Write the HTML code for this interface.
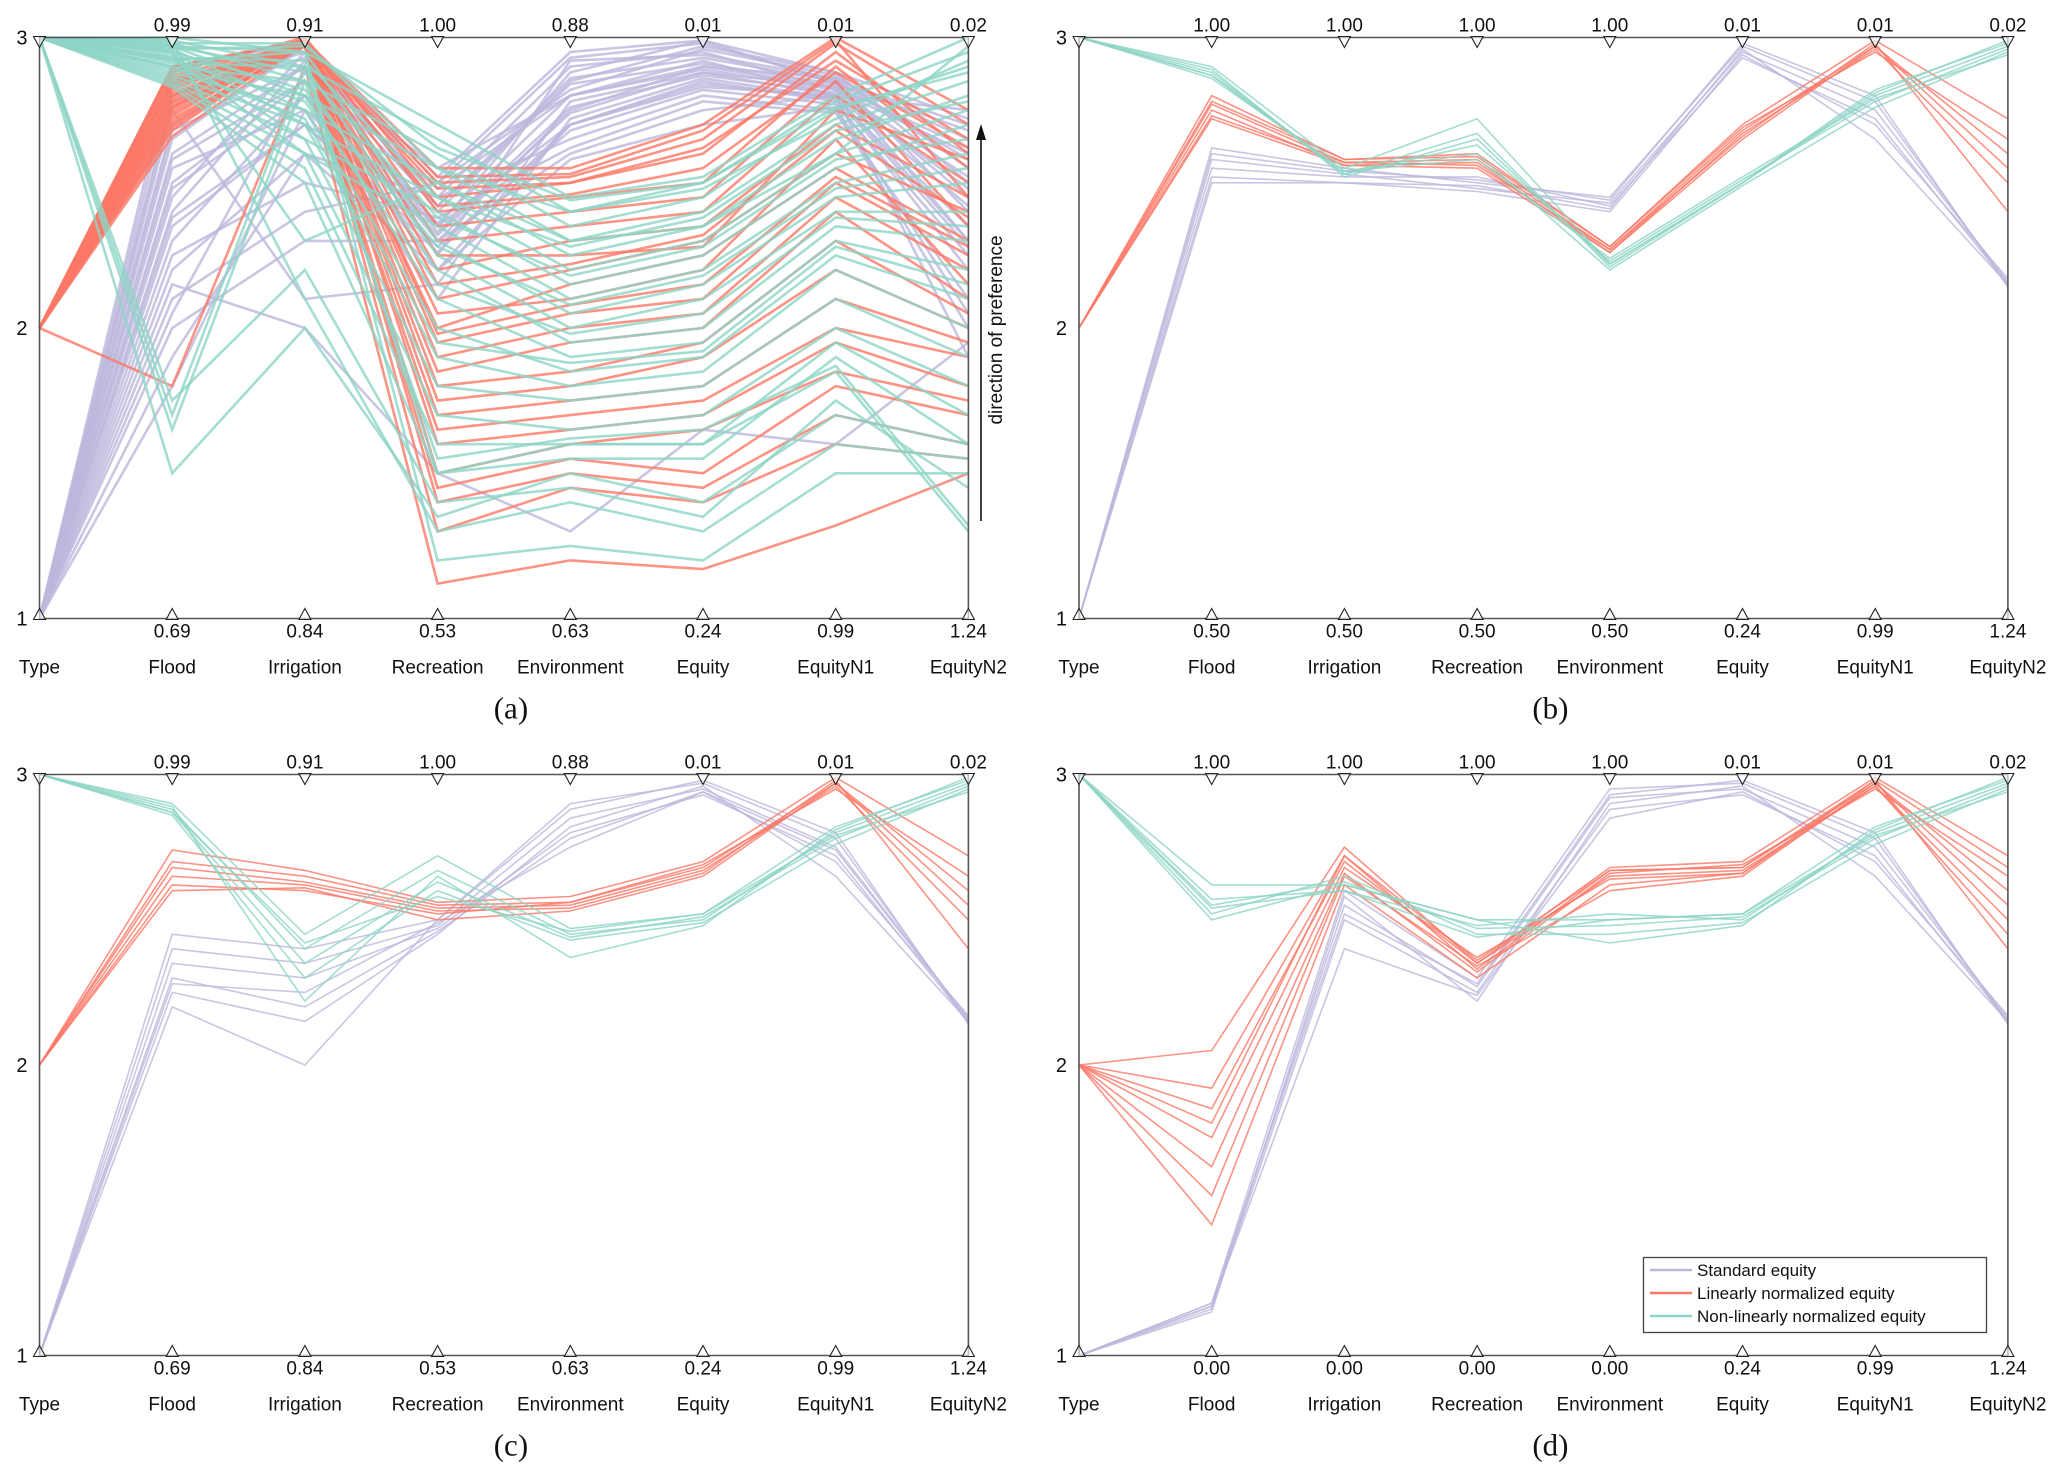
<!DOCTYPE html>
<html><head><meta charset="utf-8"><style>
html,body{margin:0;padding:0;background:#fff;}
svg{display:block;font-family:"Liberation Sans",sans-serif;}
</style></head><body>
<svg id="chart" width="2067" height="1484" viewBox="0 0 2067 1484" xmlns="http://www.w3.org/2000/svg"></svg>
<script>
const axisNames = ["Type","Flood","Irrigation","Recreation","Environment","Equity","EquityN1","EquityN2"];
const groupNames = ["Standard equity","Linearly normalized equity","Non-linearly normalized equity"];
const groupColors = ["#bcb8dc","#fb7866","#8dd5c6"];
const topLabelsA = ["","0.99","0.91","1.00","0.88","0.01","0.01","0.02"];
const botLabelsA = ["","0.69","0.84","0.53","0.63","0.24","0.99","1.24"];
const topLabelsB = ["","1.00","1.00","1.00","1.00","0.01","0.01","0.02"];
const botLabelsB = ["","0.50","0.50","0.50","0.50","0.24","0.99","1.24"];
const botLabelsD = ["","0.00","0.00","0.00","0.00","0.24","0.99","1.24"];
const yTicks = [1,2,3];

const aStd = [
[1,2.85,2.97,2.5,2.93,2.98,2.85,2.7],[1,2.8,2.95,2.45,2.9,2.95,2.82,2.6],[1,2.7,2.98,2.4,2.85,2.97,2.88,2.5],
[1,2.6,2.9,2.55,2.8,2.92,2.8,2.75],[1,2.5,2.85,2.3,2.75,2.9,2.86,2.4],[1,2.4,2.92,2.35,2.88,2.99,2.84,2.3],
[1,2.3,2.8,2.2,2.7,2.85,2.78,2.2],[1,2.2,2.6,2.45,2.65,2.8,2.75,2.0],[1,2.1,2.4,2.5,2.82,2.96,2.87,2.55],
[1,2.0,2.3,2.3,2.6,2.75,2.8,1.9],[1,2.75,2.1,2.15,2.78,2.88,2.83,2.45],[1,2.65,2.97,2.25,2.92,2.94,2.86,2.65],
[1,2.55,2.75,2.1,2.72,2.86,2.79,2.35],[1,2.45,2.95,2.42,2.86,2.93,2.85,2.58],[1,2.35,2.7,2.28,2.68,2.82,2.77,2.25],
[1,2.9,2.98,2.52,2.95,2.99,2.88,2.72],[1,2.25,2.5,2.38,2.62,2.78,2.74,2.1],[1,2.15,2.0,1.5,1.3,1.65,1.6,1.95],
[1,2.05,2.88,2.48,2.8,2.9,2.83,2.62],[1,2.78,2.93,2.33,2.76,2.87,2.81,2.48],[1,1.9,2.6,2.2,2.58,2.7,2.76,2.05],
[1,1.8,2.75,2.35,2.7,2.83,2.8,2.3],[1,2.68,2.9,2.42,2.84,2.91,2.84,2.68],[1,2.58,2.85,2.36,2.8,2.89,2.82,2.52],
[1,2.48,2.8,2.32,2.74,2.88,2.8,2.42],[1,2.38,2.7,2.26,2.7,2.84,2.79,2.28]];
const aLin = [
[2,2.9,2.99,2.55,2.55,2.7,3.0,2.75],[2,2.85,2.98,2.5,2.52,2.65,2.98,2.7],[2,2.88,3.0,2.45,2.5,2.6,2.95,2.6],
[2,2.82,2.99,2.4,2.45,2.5,2.9,2.55],[2,2.8,2.97,2.3,2.35,2.4,2.8,2.5],[2,2.78,2.99,2.2,2.3,2.35,2.7,2.45],
[2,2.75,2.98,2.1,2.2,2.3,2.6,2.4],[2,2.72,2.97,2.0,2.15,2.25,2.55,2.3],[2,2.7,2.98,1.95,2.05,2.1,2.5,2.25],
[2,2.68,2.99,1.9,2.0,2.05,2.45,2.2],[2,2.86,2.97,1.85,1.95,2.0,2.4,2.1],[2,2.84,2.98,1.8,1.85,1.95,2.3,2.05],
[2,2.76,2.99,1.75,1.8,1.9,2.2,2.0],[2,2.74,2.98,1.7,1.75,1.8,2.1,1.95],[2,2.81,2.97,1.65,1.7,1.75,2.0,1.9],
[2,2.79,2.99,1.6,1.65,1.7,1.95,1.8],[2,2.77,2.98,1.5,1.6,1.65,1.85,1.75],[2,2.83,2.97,1.45,1.55,1.5,1.8,1.7],
[2,2.73,2.99,1.4,1.5,1.45,1.7,1.6],[2,2.71,2.98,1.3,1.45,1.4,1.6,1.55],[2,1.8,2.9,1.12,1.2,1.17,1.32,1.5],
[2,2.87,2.98,2.35,2.4,2.45,2.85,2.35],[2,2.69,2.99,2.05,2.1,2.2,2.65,2.15],[2,2.89,2.97,2.48,2.5,2.62,2.92,2.65],
[2,2.66,2.98,2.25,2.25,2.28,2.75,2.58],[2,2.9,2.99,2.52,2.53,2.68,2.99,2.45],[2,2.84,2.98,2.42,2.46,2.55,2.88,2.62],
[2,2.76,2.98,2.15,2.22,2.32,2.68,2.38],[2,2.8,2.99,1.98,2.08,2.15,2.52,2.28]];
const aNon = [
[3,3.0,2.95,2.7,2.45,2.52,2.8,3.0],[3,2.99,2.9,2.65,2.4,2.5,2.78,2.95],[3,2.98,2.85,2.6,2.35,2.45,2.75,2.9],
[3,2.97,2.8,2.55,2.3,2.4,2.7,2.85],[3,2.96,2.75,2.5,2.25,2.35,2.65,2.8],[3,2.95,2.7,2.45,2.2,2.3,2.6,2.75],
[3,2.94,2.65,2.4,2.15,2.25,2.55,2.7],[3,2.93,2.6,2.35,2.1,2.2,2.5,2.6],[3,2.92,2.95,2.3,2.05,2.15,2.45,2.5],
[3,2.91,2.9,2.25,2.0,2.1,2.4,2.4],[3,2.9,2.85,2.2,1.95,2.0,2.35,2.3],[3,2.89,2.8,2.1,1.9,1.95,2.3,2.2],
[3,2.88,2.75,2.0,1.85,1.9,2.25,2.1],[3,2.87,2.7,1.9,1.8,1.85,2.2,2.0],[3,2.86,2.65,1.8,1.75,1.8,2.1,1.9],
[3,2.85,2.6,1.7,1.65,1.7,2.0,1.8],[3,2.84,2.55,1.6,1.6,1.6,1.95,1.7],[3,2.83,2.5,1.5,1.55,1.55,1.9,1.6],
[3,1.7,2.9,1.5,1.6,1.6,1.85,1.3],[3,1.65,2.85,1.55,1.62,1.65,1.87,1.32],[3,1.75,2.2,1.4,1.45,1.35,1.75,1.45],
[3,2.99,2.1,1.3,1.4,1.3,1.6,1.55],[3,2.97,2.95,1.2,1.25,1.2,1.5,1.5],[3,2.95,2.3,2.5,2.3,2.35,2.6,2.97],
[3,2.98,2.98,2.55,2.4,2.48,2.72,2.92],[3,1.5,2.0,1.35,1.5,1.4,1.7,1.6],[3,2.96,2.97,2.62,2.44,2.5,2.76,2.88],
[3,2.93,2.92,2.45,2.28,2.38,2.68,2.78],[3,2.97,2.88,2.38,2.18,2.28,2.58,2.65],[3,2.95,2.82,2.28,2.08,2.18,2.48,2.55],
[3,2.92,2.78,2.15,1.98,2.05,2.38,2.35],[3,2.9,2.72,1.95,1.88,1.92,2.28,2.15]];

const bStd = [[1,2.62,2.55,2.5,2.45,2.97,2.78,2.15],[1,2.58,2.53,2.48,2.43,2.95,2.75,2.16],[1,2.55,2.52,2.52,2.42,2.93,2.72,2.15],
[1,2.52,2.5,2.47,2.4,2.94,2.7,2.17],[1,2.5,2.5,2.49,2.41,2.96,2.65,2.15],[1,2.6,2.54,2.51,2.44,2.98,2.8,2.14]];
const bLin = [[2,2.8,2.58,2.6,2.28,2.7,2.99,2.72],[2,2.77,2.57,2.58,2.27,2.68,2.97,2.6],[2,2.75,2.56,2.57,2.26,2.67,2.96,2.5],
[2,2.73,2.57,2.56,2.27,2.66,2.98,2.4],[2,2.78,2.58,2.59,2.28,2.69,2.95,2.65],[2,2.72,2.56,2.55,2.26,2.65,2.97,2.55]];
const bNon = [[3,2.9,2.55,2.72,2.22,2.5,2.82,2.98],[3,2.88,2.53,2.67,2.21,2.5,2.8,2.97],[3,2.87,2.53,2.63,2.23,2.51,2.78,2.96],
[3,2.86,2.54,2.6,2.2,2.49,2.76,2.95],[3,2.89,2.52,2.65,2.22,2.5,2.81,2.99],[3,2.87,2.54,2.58,2.24,2.52,2.79,2.94]];

const cStd = [[1,2.45,2.4,2.5,2.9,2.97,2.78,2.15],[1,2.4,2.35,2.48,2.85,2.95,2.75,2.16],[1,2.35,2.3,2.47,2.8,2.93,2.72,2.15],
[1,2.3,2.2,2.46,2.78,2.94,2.7,2.17],[1,2.25,2.15,2.45,2.82,2.96,2.65,2.15],[1,2.2,2.0,2.5,2.88,2.98,2.8,2.14],[1,2.28,2.25,2.49,2.75,2.94,2.74,2.16]];
const cLin = [[2,2.74,2.67,2.56,2.58,2.7,2.99,2.72],[2,2.7,2.65,2.55,2.56,2.68,2.97,2.6],[2,2.68,2.63,2.54,2.55,2.67,2.96,2.5],
[2,2.65,2.62,2.53,2.54,2.66,2.98,2.4],[2,2.62,2.6,2.52,2.56,2.69,2.95,2.65],[2,2.6,2.61,2.5,2.53,2.65,2.97,2.55]];
const cNon = [[3,2.9,2.45,2.72,2.47,2.52,2.82,2.98],[3,2.88,2.4,2.67,2.45,2.5,2.8,2.97],[3,2.87,2.35,2.63,2.44,2.51,2.78,2.96],
[3,2.86,2.3,2.6,2.43,2.49,2.76,2.95],[3,2.89,2.22,2.65,2.37,2.48,2.81,2.99],[3,2.87,2.42,2.58,2.46,2.52,2.79,2.94]];

const dStd = [[1,1.18,2.6,2.3,2.95,2.97,2.78,2.15],[1,1.17,2.55,2.27,2.92,2.95,2.75,2.16],[1,1.16,2.5,2.25,2.88,2.93,2.72,2.15],
[1,1.17,2.4,2.24,2.85,2.94,2.7,2.17],[1,1.15,2.58,2.22,2.9,2.96,2.65,2.15],[1,1.18,2.52,2.28,2.93,2.98,2.8,2.14]];
const dLin = [[2,2.05,2.75,2.35,2.68,2.7,2.99,2.72],[2,1.92,2.72,2.33,2.67,2.68,2.97,2.6],[2,1.85,2.7,2.35,2.65,2.67,2.96,2.5],
[2,1.75,2.68,2.37,2.64,2.66,2.98,2.4],[2,1.65,2.66,2.32,2.66,2.69,2.95,2.65],[2,1.55,2.65,2.34,2.6,2.65,2.97,2.55],
[2,1.45,2.62,2.3,2.62,2.66,2.96,2.45],[2,1.8,2.72,2.36,2.67,2.68,2.98,2.68]];
const dNon = [[3,2.62,2.62,2.5,2.5,2.52,2.82,2.98],[3,2.57,2.6,2.48,2.52,2.5,2.8,2.97],[3,2.55,2.63,2.47,2.48,2.51,2.78,2.96],
[3,2.52,2.65,2.45,2.45,2.49,2.76,2.95],[3,2.5,2.62,2.5,2.42,2.48,2.81,2.99],[3,2.54,2.6,2.44,2.5,2.52,2.79,2.94]];

const panels = [
 {id:"a", x0:39.5, top:37.5, bot:618.5, data:[aStd,aLin,aNon], tl:topLabelsA, bl:botLabelsA, sw:2.6},
 {id:"b", x0:1079, top:37.5, bot:618.5, data:[bStd,bLin,bNon], tl:topLabelsB, bl:botLabelsB, sw:1.6},
 {id:"c", x0:39.5, top:774.5, bot:1355.5, data:[cStd,cLin,cNon], tl:topLabelsA, bl:botLabelsA, sw:1.6},
 {id:"d", x0:1079, top:774.5, bot:1355.5, data:[dStd,dLin,dNon], tl:topLabelsB, bl:botLabelsD, sw:1.6}
];
const SP = 132.7;
const NS = "http://www.w3.org/2000/svg";
const svg = document.getElementById("chart");
function mk(tag, attrs, parent){const e=document.createElementNS(NS,tag);for(const k in attrs)e.setAttribute(k,attrs[k]);(parent||svg).appendChild(e);return e;}

panels.forEach(p=>{
  const g = mk("g",{});
  
  
  const xs = i => p.x0 + i*SP;
  const ys = v => p.bot - (v-1)/2*(p.bot-p.top);
  const xR = xs(7);
  p.data.forEach((grp,gi)=>{
    const sg = mk("g",{},g);
    
    
    grp.forEach(row=>{
      const pts = row.map((v,i)=>xs(i).toFixed(1)+","+ys(v).toFixed(1)).join(" ");
      const pl = mk("polyline",{points:pts,fill:"none",stroke:groupColors[gi],"stroke-width":String(p.sw),"stroke-opacity":"0.8"},sg);
      
      
    });
  });
  const fr = mk("path",{d:`M${xs(0)},${p.top}H${xR}V${p.bot}H${xs(0)}Z`,fill:"none",stroke:"#555","stroke-width":"1.6"},g);
  
  
  for(let i=0;i<8;i++){
    const x=xs(i);
    const t1 = mk("path",{d:`M${x-6},${p.top-1}L${x+6},${p.top-1}L${x},${p.top+10}Z`,fill:"#fff","fill-opacity":"0.6",stroke:"#222","stroke-width":"1.1"},g);
    
    
    const t2 = mk("path",{d:`M${x-6},${p.bot+1}L${x+6},${p.bot+1}L${x},${p.bot-10}Z`,fill:"#fff","fill-opacity":"0.6",stroke:"#222","stroke-width":"1.1"},g);
    
    
    if(p.tl[i]){
      const a = mk("text",{x:x,y:p.top-6,"text-anchor":"middle","font-size":"19",fill:"#111"},g);
      a.textContent=p.tl[i];
      
      
      const b = mk("text",{x:x,y:p.bot+19,"text-anchor":"middle","font-size":"19",fill:"#111"},g);
      b.textContent=p.bl[i];
      
      
    }
    const n = mk("text",{x:x,y:p.bot+55,"text-anchor":"middle","font-size":"19",fill:"#111"},g);
    n.textContent=axisNames[i];
    
    
  }
  yTicks.forEach(v=>{
    const t = mk("text",{x:xs(0)-12,y:ys(v)+7,"text-anchor":"end","font-size":"20",fill:"#111"},g);
    t.textContent=String(v);
    
    
  });
  const cap = mk("text",{x:(xs(0)+xR)/2+7,y:p.bot+100,"text-anchor":"middle","font-size":"31","font-family":"Liberation Serif, serif",fill:"#111"},g);
  cap.textContent="("+p.id+")";
  
  
});

const arr = mk("path",{d:"M981,521V132",stroke:"#111","stroke-width":"1.6",fill:"none"});


const ah = mk("path",{d:"M981,124L976,140L986,140Z",fill:"#111"});


const dt = mk("text",{x:0,y:0,transform:"translate(1002,330) rotate(-90)","text-anchor":"middle","font-size":"19",fill:"#111"});
dt.textContent="direction of preference";



const lg = mk("g",{});


const lb = mk("rect",{x:1643.5,y:1257.5,width:343,height:75,fill:"#fff",stroke:"#444","stroke-width":"1.3"},lg);


groupNames.forEach((nm,i)=>{
  const y = 1270 + i*23;
  const ln = mk("line",{x1:1650,x2:1692,y1:y,y2:y,stroke:groupColors[i],"stroke-width":"2.5"},lg);
  
  
  const t = mk("text",{x:1697,y:y+6,"font-size":"17",fill:"#111"},lg);
  t.textContent=nm;
  
  
});
</script>
</body></html>
